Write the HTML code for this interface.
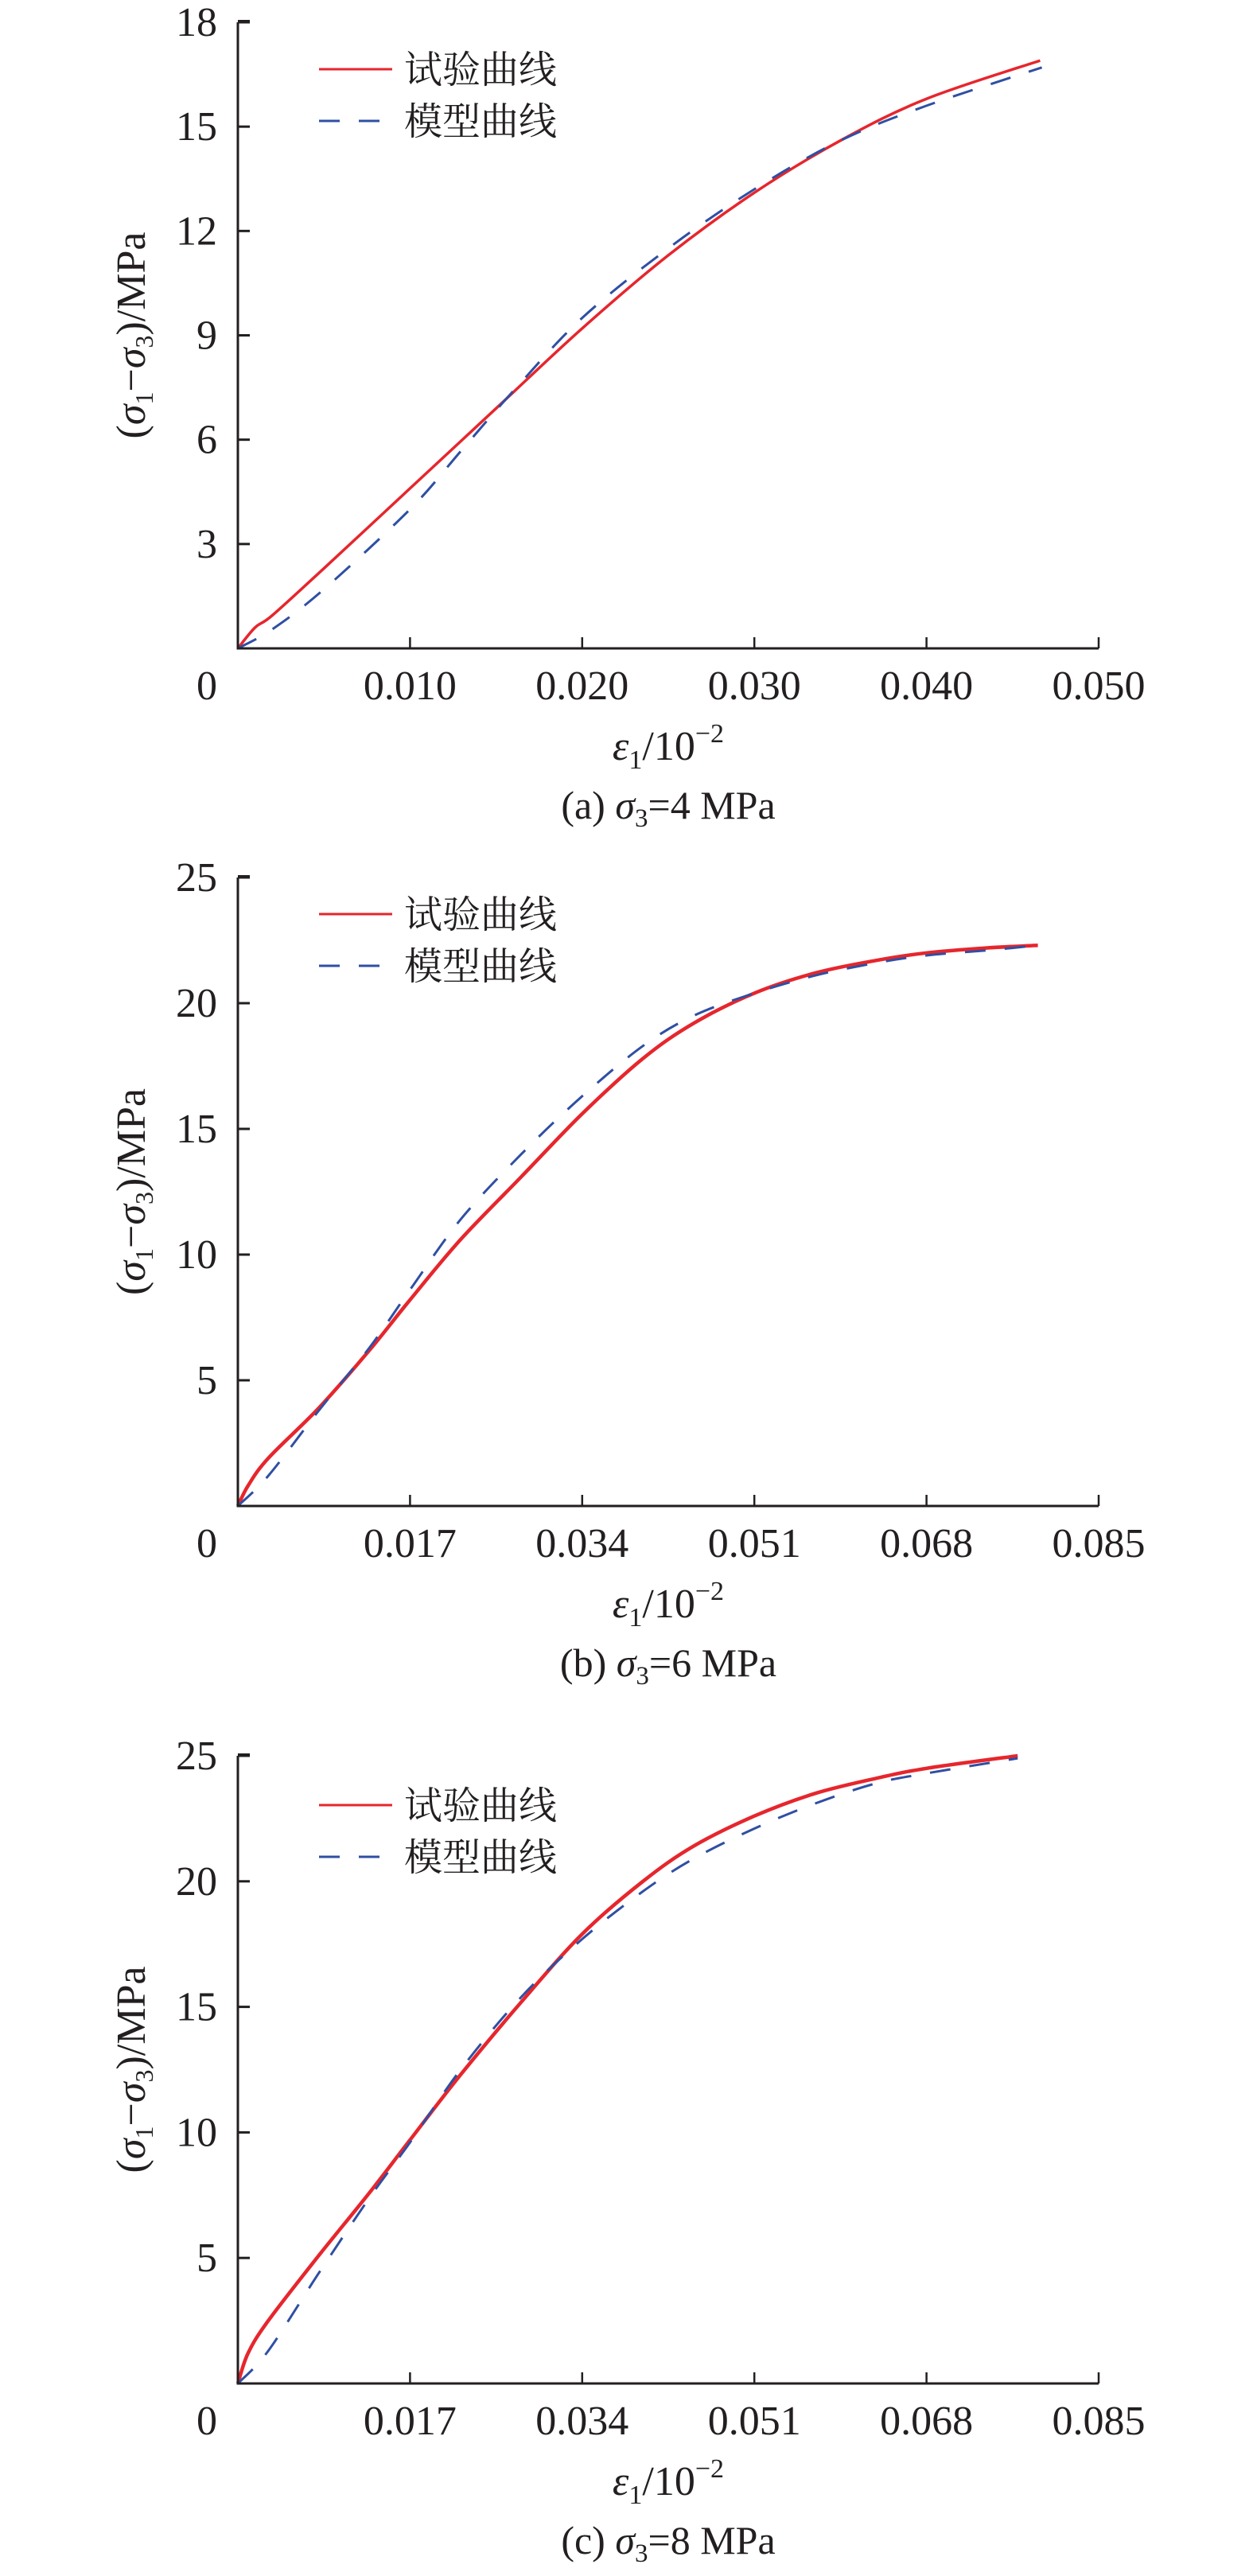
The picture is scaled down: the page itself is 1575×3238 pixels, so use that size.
<!DOCTYPE html>
<html><head><meta charset="utf-8"><style>
html,body{margin:0;padding:0;background:#fff;}
svg{display:block;font-family:"Liberation Serif","Noto Serif CJK SC",serif;}
</style></head><body>
<svg id="chart" width="1575" height="3238" viewBox="0 0 1575 3238" xmlns="http://www.w3.org/2000/svg"></svg>
<script>
// Panel (a) sigma3 = 4 MPa
const xTicksA = [0.010, 0.020, 0.030, 0.040, 0.050];
const xTickLabelsA = ["0.010", "0.020", "0.030", "0.040", "0.050"];
const yTicksA = [3, 6, 9, 12, 15, 18];
const testXA = [0, 0.001, 0.002, 0.005, 0.010, 0.015, 0.020, 0.025, 0.030, 0.035, 0.040, 0.0466];
const testYA = [0, 0.6, 0.95, 2.3, 4.6, 6.9, 9.2, 11.3, 13.1, 14.6, 15.8, 16.9];
const modelXA = [0, 0.002, 0.005, 0.010, 0.013, 0.016, 0.020, 0.025, 0.030, 0.035, 0.040, 0.0467];
const modelYA = [0, 0.55, 1.7, 4.0, 5.7, 7.4, 9.5, 11.5, 13.2, 14.6, 15.6, 16.7];
// Panel (b) sigma3 = 6 MPa
const xTicksB = [0.017, 0.034, 0.051, 0.068, 0.085];
const xTickLabelsB = ["0.017", "0.034", "0.051", "0.068", "0.085"];
const yTicksB = [5, 10, 15, 20, 25];
const testXB = [0, 0.001, 0.003, 0.008, 0.013, 0.017, 0.022, 0.028, 0.034, 0.040, 0.045, 0.051, 0.057, 0.063, 0.068, 0.074, 0.079];
const testYB = [0, 0.8, 1.9, 3.9, 6.2, 8.2, 10.6, 13.1, 15.6, 17.8, 19.2, 20.4, 21.2, 21.7, 22.0, 22.2, 22.3];
const modelXB = [0, 0.003, 0.008, 0.013, 0.017, 0.022, 0.028, 0.034, 0.040, 0.045, 0.051, 0.057, 0.063, 0.068, 0.074, 0.079];
const modelYB = [0, 1.2, 3.8, 6.3, 8.6, 11.4, 14.0, 16.3, 18.3, 19.5, 20.4, 21.1, 21.6, 21.9, 22.1, 22.3];
// Panel (c) sigma3 = 8 MPa
const xTicksC = [0.017, 0.034, 0.051, 0.068, 0.085];
const xTickLabelsC = ["0.017", "0.034", "0.051", "0.068", "0.085"];
const yTicksC = [5, 10, 15, 20, 25];
const testXC = [0, 0.001, 0.003, 0.008, 0.013, 0.017, 0.022, 0.028, 0.034, 0.040, 0.045, 0.051, 0.057, 0.063, 0.068, 0.077];
const testYC = [0, 1.2, 2.5, 5.1, 7.6, 9.7, 12.3, 15.2, 17.9, 20.0, 21.4, 22.6, 23.5, 24.1, 24.5, 25.0];
const modelXC = [0, 0.003, 0.008, 0.013, 0.017, 0.022, 0.028, 0.034, 0.040, 0.045, 0.051, 0.057, 0.063, 0.068, 0.077];
const modelYC = [0, 1.3, 4.4, 7.4, 9.6, 12.5, 15.4, 17.7, 19.6, 20.9, 22.1, 23.1, 23.9, 24.3, 24.9];

const NS = "http://www.w3.org/2000/svg";
const svg = document.getElementById("chart");
function mk(tag, attrs, parent) {
  const e = document.createElementNS(NS, tag);
  for (const k in attrs) e.setAttribute(k, attrs[k]);
  (parent || svg).appendChild(e);
  return e;
}
function tspan(parent, text, attrs) {
  const t = mk("tspan", attrs || {}, parent);
  t.textContent = text;
  return t;
}
function smoothPath(pts) {
  let d = "M" + pts[0][0].toFixed(1) + "," + pts[0][1].toFixed(1);
  for (let i = 0; i < pts.length - 1; i++) {
    const p0 = pts[i - 1] || pts[i], p1 = pts[i], p2 = pts[i + 1], p3 = pts[i + 2] || p2;
    const c1x = p1[0] + (p2[0] - p0[0]) / 6, c1y = p1[1] + (p2[1] - p0[1]) / 6;
    const c2x = p2[0] - (p3[0] - p1[0]) / 6, c2y = p2[1] - (p3[1] - p1[1]) / 6;
    d += " C" + c1x.toFixed(1) + "," + c1y.toFixed(1) + " " + c2x.toFixed(1) + "," + c2y.toFixed(1) + " " + p2[0].toFixed(1) + "," + p2[1].toFixed(1);
  }
  return d;
}

function panel(id, top, bottom, xMax, yMax, xTicks, xLabels, yTicks, tx, ty, mx, my, legY, caption, s3) {
  const left = 299, right = 1381;
  const X = v => left + v / xMax * (right - left);
  const Y = v => bottom - v / yMax * (bottom - top);
  const g = mk("g", {});
  
  

  const tp = tx.map((v, i) => [X(v), Y(ty[i])]);
  const tline = mk("path", {d: smoothPath(tp), fill: "none", stroke: "#e6262d", "stroke-width": id === "a" ? 3.5 : 4.5, "stroke-linejoin": "round"}, g);
  
  
  const mp = mx.map((v, i) => [X(v), Y(my[i])]);
  const mline = mk("path", {d: smoothPath(mp), fill: "none", stroke: "#2f4fa3", "stroke-width": 3, "stroke-dasharray": "26 24"}, g);
  
  

  const ax = mk("path", {d: "M" + left + "," + (top - 1.5) + " H" + (left + 15) + " M" + left + "," + top + " V" + bottom + " H" + right, fill: "none", stroke: "#231f20", "stroke-width": 3}, g);
  
  
  yTicks.forEach(v => {
    const t = mk("line", {x1: left, x2: left + 15, y1: Y(v), y2: Y(v), stroke: "#231f20", "stroke-width": 3}, g);
    
    
    const l = mk("text", {x: 273, y: Y(v) + 17, "text-anchor": "end", "font-size": 52, fill: "#231f20"}, g);
    
    
    l.textContent = String(v);
  });
  xTicks.forEach((v, i) => {
    const t = mk("line", {x1: X(v), x2: X(v), y1: bottom, y2: bottom - 14, stroke: "#231f20", "stroke-width": 2.5}, g);
    
    
    const l = mk("text", {x: X(v), y: bottom + 64, "text-anchor": "middle", "font-size": 52, fill: "#231f20"}, g);
    
    
    l.textContent = xLabels[i];
  });
  const z = mk("text", {x: 260, y: bottom + 64, "text-anchor": "middle", "font-size": 52, fill: "#231f20"}, g);
  
  
  z.textContent = "0";

  const cy = (top + bottom) / 2;
  const yt = mk("text", {x: 0, y: 0, transform: "translate(182," + cy + ") rotate(-90)", "text-anchor": "middle", "font-size": 52, fill: "#231f20"}, g);
  
  
  tspan(yt, "(");
  tspan(yt, "σ", {"font-style": "italic"});
  tspan(yt, "1", {"font-size": 32, dy: 10});
  tspan(yt, "−", {dy: -10});
  tspan(yt, "σ", {"font-style": "italic"});
  tspan(yt, "3", {"font-size": 32, dy: 10});
  tspan(yt, ")/MPa", {dy: -10});

  const xt = mk("text", {x: 840, y: bottom + 140, "text-anchor": "middle", "font-size": 52, fill: "#231f20"}, g);
  
  
  tspan(xt, "ε", {"font-style": "italic"});
  tspan(xt, "1", {"font-size": 34, dy: 11});
  tspan(xt, "/10", {dy: -11});
  tspan(xt, "−2", {"font-size": 34, dy: -22});

  const cap = mk("text", {x: 840, y: bottom + 214, "text-anchor": "middle", "font-size": 50, fill: "#231f20"}, g);
  
  
  tspan(cap, "(" + id + ") ");
  tspan(cap, "σ", {"font-style": "italic"});
  tspan(cap, "3", {"font-size": 33, dy: 10});
  tspan(cap, "=" + s3 + " MPa", {dy: -10});

  const lg = mk("g", {}, g);
  
  
  const l1 = mk("line", {x1: 401, x2: 493, y1: legY, y2: legY, stroke: "#e6262d", "stroke-width": 3}, lg);
  
  
  const t1 = mk("text", {x: 508, y: legY + 17, "font-size": 48, fill: "#231f20", "font-family": "\"Noto Serif CJK SC\", serif"}, lg);
  
  
  t1.textContent = "试验曲线";
  const l2 = mk("line", {x1: 401, x2: 493, y1: legY + 65, y2: legY + 65, stroke: "#2f4fa3", "stroke-width": 3, "stroke-dasharray": "26 24"}, lg);
  
  
  const t2 = mk("text", {x: 508, y: legY + 82, "font-size": 48, fill: "#231f20", "font-family": "\"Noto Serif CJK SC\", serif"}, lg);
  
  
  t2.textContent = "模型曲线";
}

panel("a", 28, 815, 0.050, 18, xTicksA, xTickLabelsA, yTicksA, testXA, testYA, modelXA, modelYA, 87, "a", 4);
panel("b", 1103, 1893, 0.085, 25, xTicksB, xTickLabelsB, yTicksB, testXB, testYB, modelXB, modelYB, 1149, "b", 6);
panel("c", 2207, 2996, 0.085, 25, xTicksC, xTickLabelsC, yTicksC, testXC, testYC, modelXC, modelYC, 2269, "c", 8);
</script>
</body></html>
